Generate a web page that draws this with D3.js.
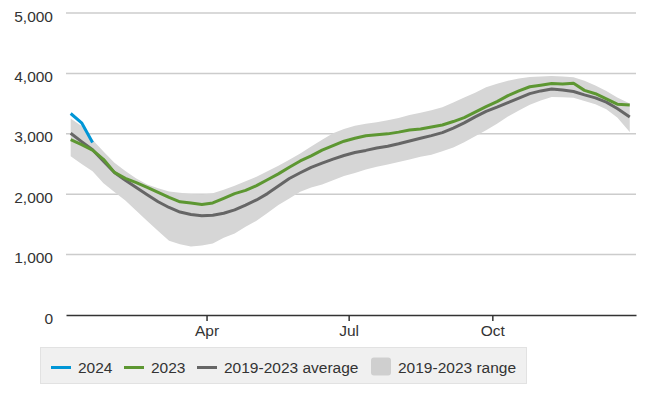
<!DOCTYPE html>
<html>
<head>
<meta charset="utf-8">
<script src="https://cdn.jsdelivr.net/npm/d3@7"></script>
<style>
  html, body { margin: 0; padding: 0; background: #fff; }
  svg { display: block; font-family: "Liberation Sans", Arial, sans-serif; }
</style>
</head>
<body>
<svg id="chart" width="663" height="395"></svg>
<script>
// ---- data ----
const weekDates = ["01-04","01-11","01-18","01-25","02-01","02-08","02-15","02-22",
  "03-01","03-08","03-15","03-22","03-29","04-05","04-12","04-19","04-26",
  "05-03","05-10","05-17","05-24","05-31","06-07","06-14","06-21","06-28",
  "07-05","07-12","07-19","07-26","08-02","08-09","08-16","08-23","08-30",
  "09-06","09-13","09-20","09-27","10-04","10-11","10-18","10-25",
  "11-01","11-08","11-15","11-22","11-29","12-06","12-13","12-20","12-28"];

const series2024 = [3336, 3182, 2856];

const series2023 = [2902, 2820, 2729, 2578, 2361, 2261, 2190, 2114,
  2030, 1946, 1874, 1853, 1830, 1855, 1930, 2009, 2063,
  2141, 2240, 2336, 2446, 2550, 2634, 2729, 2805, 2877,
  2926, 2967, 2983, 2999, 3028, 3063, 3081, 3113, 3146,
  3203, 3269, 3359, 3449, 3533, 3631, 3710, 3779,
  3805, 3833, 3826, 3836, 3719, 3664, 3577, 3490, 3476];

const seriesAvg = [3010, 2870, 2735, 2545, 2360, 2230, 2110, 1990,
  1875, 1780, 1705, 1665, 1645, 1650, 1685, 1740, 1820,
  1905, 2010, 2135, 2260, 2355, 2445, 2515, 2580, 2640,
  2690, 2725, 2765, 2795, 2835, 2880, 2925, 2970, 3020,
  3095, 3180, 3280, 3370, 3440, 3515, 3590, 3665,
  3710, 3740, 3725, 3700, 3645, 3595, 3525, 3420, 3280];

const rangeHigh = [3255, 3130, 2900, 2705, 2520, 2385, 2260, 2160,
  2100, 2045, 2025, 2005, 1995, 2015, 2075, 2140, 2215,
  2290, 2380, 2470, 2570, 2675, 2790, 2900, 3010, 3080,
  3135, 3165, 3190, 3225, 3260, 3310, 3350, 3390, 3440,
  3520, 3600, 3680, 3770, 3830, 3880, 3915, 3940,
  3950, 3955, 3950, 3935, 3880, 3800, 3710, 3600, 3500];

const rangeLow = [2630, 2500, 2380, 2180, 2035, 1895, 1725, 1555,
  1390, 1230, 1170, 1135, 1150, 1185, 1280, 1350, 1460,
  1560, 1690, 1820, 1930, 2040, 2110, 2160, 2230, 2300,
  2350, 2410, 2455, 2490, 2535, 2575, 2620, 2655, 2710,
  2775, 2860, 2960, 3060, 3165, 3285, 3385, 3480,
  3550, 3610, 3605, 3595, 3545, 3490, 3405, 3270, 3030];

const yTicks = [0, 1000, 2000, 3000, 4000, 5000];
const xTickLabels = ["Apr", "Jul", "Oct"];
const xTickDates = ["2023-04-01", "2023-07-01", "2023-10-01"];

const legendItems = [
  { label: "2024", type: "line", color: "#0096d6" },
  { label: "2023", type: "line", color: "#5d9732" },
  { label: "2019-2023 average", type: "line", color: "#666666" },
  { label: "2019-2023 range", type: "box", color: "#cfcfcf" }
];

// ---- drawing ----
const parse = d3.timeParse("%Y-%m-%d");
const dates = weekDates.map(d => parse("2023-" + d));

const svg = d3.select("#chart");
const x = d3.scaleTime()
  .domain([parse("2023-01-01"), parse("2024-01-01")])
  .range([66, 636]);
const y = d3.scaleLinear().domain([0, 5000]).range([315, 13]);

// gridlines
svg.append("g").selectAll("line")
  .data(yTicks.filter(v => v > 0))
  .join("line")
  .attr("x1", 66).attr("x2", 636)
  .attr("y1", d => y(d)).attr("y2", d => y(d))
  .attr("stroke", "#cccccc").attr("stroke-width", 1.5);

// y labels
const yAxis = d3.axisLeft(y).tickValues(yTicks).tickFormat(d3.format(",")).tickSize(0).tickPadding(0);
const gy = svg.append("g").attr("transform", "translate(53,0)").call(yAxis);
gy.select(".domain").remove();
gy.selectAll("text")
  .attr("font-size", "15.5px")
  .attr("font-family", "'Liberation Sans', Arial, sans-serif")
  .attr("fill", "#333")
  .attr("dy", "0.52em");

// range band
const area = d3.area()
  .x((d, i) => x(dates[i]))
  .y0((d, i) => y(rangeLow[i]))
  .y1((d, i) => y(rangeHigh[i]));
svg.append("path").datum(rangeHigh).attr("d", area).attr("fill", "#d6d6d6");

const line = vals => d3.line()
  .x((d, i) => x(dates[i]))
  .y(d => y(d))(vals);

svg.append("path").attr("d", line(seriesAvg))
  .attr("fill", "none").attr("stroke", "#666666").attr("stroke-width", 3).attr("stroke-linejoin", "round");
svg.append("path").attr("d", line(series2023))
  .attr("fill", "none").attr("stroke", "#5d9732").attr("stroke-width", 3).attr("stroke-linejoin", "round");
svg.append("path").attr("d", line(series2024))
  .attr("fill", "none").attr("stroke", "#0096d6").attr("stroke-width", 3).attr("stroke-linejoin", "round");

// x axis
const xAxis = d3.axisBottom(x)
  .tickValues(xTickDates.map(parse))
  .tickFormat((d, i) => xTickLabels[i])
  .tickSize(6).tickSizeOuter(0).tickPadding(4);
const gx = svg.append("g").attr("transform", "translate(0,315)").call(xAxis);
gx.select(".domain").attr("stroke", "#333").attr("stroke-width", 1.5);
gx.selectAll(".tick line").attr("stroke", "#333").attr("stroke-width", 1.5);
gx.selectAll("text")
  .attr("font-size", "15.5px")
  .attr("font-family", "'Liberation Sans', Arial, sans-serif")
  .attr("fill", "#333");

// legend
const lg = svg.append("g");
lg.append("rect")
  .attr("x", 40.5).attr("y", 347.5).attr("width", 486).attr("height", 36)
  .attr("fill", "#f0f0f0").attr("stroke", "#e2e2e2").attr("stroke-width", 1);
const legendX = [51, 124, 197, 371];
legendItems.forEach((it, i) => {
  const g = lg.append("g").attr("transform", `translate(${legendX[i]},0)`);
  if (it.type === "line") {
    g.append("line").attr("x1", 0).attr("x2", 20).attr("y1", 367.5).attr("y2", 367.5)
      .attr("stroke", it.color).attr("stroke-width", 3);
  } else {
    g.append("rect").attr("x", 0).attr("y", 357.5).attr("width", 20).attr("height", 18)
      .attr("rx", 3).attr("fill", it.color);
  }
  g.append("text").attr("x", 27).attr("y", 373)
    .attr("font-size", "15.5px")
    .attr("fill", "#333")
    .text(it.label);
});
</script>
</body>
</html>
